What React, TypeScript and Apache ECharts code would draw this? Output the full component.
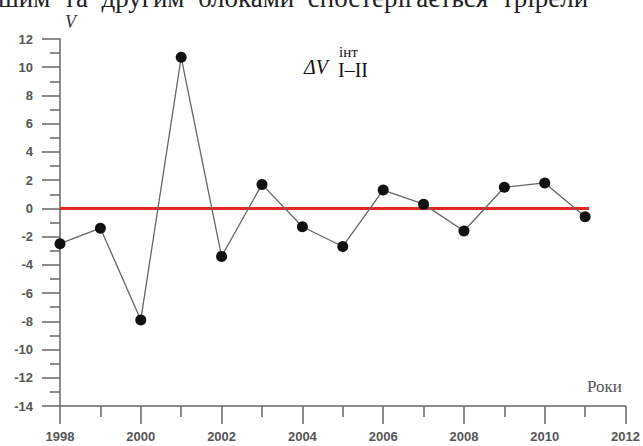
import React, { useEffect, useRef } from "react";
import * as echarts from "echarts";

const years = [1998, 1999, 2000, 2001, 2002, 2003, 2004, 2005, 2006, 2007, 2008, 2009, 2010, 2011];
const values = [-2.5, -1.4, -7.9, 10.7, -3.4, 1.7, -1.3, -2.7, 1.3, 0.3, -1.6, 1.5, 1.8, -0.6];
const zeroLineX = [1998, 2011.1];
const yTicks = { min: -14, max: 12, interval: 2 };
const xTicks = { min: 1998, max: 2012, interval: 2 };

const SERIF = "'Liberation Serif', 'Times New Roman', serif";
const SANS = "'Liberation Sans', Arial, sans-serif";

export default function App() {
  const ref = useRef<HTMLDivElement>(null);
  useEffect(() => {
    if (!ref.current) return;
    const chart = echarts.init(ref.current, null, { renderer: "svg" });
    const axisColor = "#666";
    const labelStyle = { color: "#555", fontSize: 13, fontWeight: "bold" as const, fontFamily: SANS };
    chart.setOption({
      animation: false,
      backgroundColor: "#fff",
      grid: { left: 60, right: 15, top: 39, bottom: 40 },
      xAxis: {
        type: "value",
        min: xTicks.min,
        max: xTicks.max,
        interval: xTicks.interval,
        axisLine: { show: true, onZero: false, lineStyle: { color: axisColor, width: 1.5 } },
        axisTick: { show: true, inside: false, length: 18, lineStyle: { color: axisColor, width: 1.5 } },
        minorTick: { show: true, splitNumber: 2, length: 11, lineStyle: { color: axisColor, width: 1.5 } },
        splitLine: { show: false },
        axisLabel: { ...labelStyle, margin: 24, formatter: (v: number) => String(v) },
      },
      yAxis: {
        type: "value",
        min: yTicks.min,
        max: yTicks.max,
        interval: yTicks.interval,
        axisLine: { show: true, onZero: false, lineStyle: { color: axisColor, width: 1.5 } },
        axisTick: { show: true, length: 18, lineStyle: { color: axisColor, width: 1.5 } },
        minorTick: { show: true, splitNumber: 2, length: 10, lineStyle: { color: axisColor, width: 1.5 } },
        splitLine: { show: false },
        axisLabel: { ...labelStyle, margin: 27 },
      },
      series: [
        {
          type: "line",
          data: zeroLineX.map((x) => [x, 0]),
          showSymbol: false,
          symbol: "none",
          lineStyle: { color: "#e02a24", width: 3 },
          z: 1,
        },
        {
          type: "line",
          data: years.map((y, i) => [y, values[i]]),
          symbol: "circle",
          symbolSize: 11,
          itemStyle: { color: "#111" },
          lineStyle: { color: "#666", width: 1.3 },
          z: 2,
        },
      ],
      graphic: [
        {
          type: "text",
          x: -2,
          y: -16,
          style: {
            text: "шим  та  другим  блоками  спостерігається  трірели",
            fontFamily: SERIF,
            fontSize: 27,
            fill: "#222",
            verticalAlign: "top",
          },
        },
        {
          type: "text",
          x: 65,
          y: 13,
          style: { text: "V", fontFamily: SERIF, fontStyle: "italic", fontSize: 18, fill: "#333", verticalAlign: "top" },
        },
        {
          type: "text",
          x: 304,
          y: 57,
          style: { text: "ΔV", fontFamily: SERIF, fontStyle: "italic", fontSize: 20, fill: "#111", verticalAlign: "top" },
        },
        {
          type: "text",
          x: 339,
          y: 44,
          style: { text: "інт", fontFamily: SERIF, fontSize: 15, fill: "#111", verticalAlign: "top" },
        },
        {
          type: "text",
          x: 338,
          y: 60,
          style: { text: "I–II", fontFamily: SERIF, fontSize: 20, fill: "#111", verticalAlign: "top" },
        },
        {
          type: "text",
          x: 587,
          y: 378,
          style: { text: "Роки", fontFamily: SERIF, fontSize: 17, fill: "#555", verticalAlign: "top" },
        },
      ],
    });
    return () => chart.dispose();
  }, []);
  return <div ref={ref} style={{ position: "fixed", left: 0, top: 0, width: 643, height: 446 }} />;
}
